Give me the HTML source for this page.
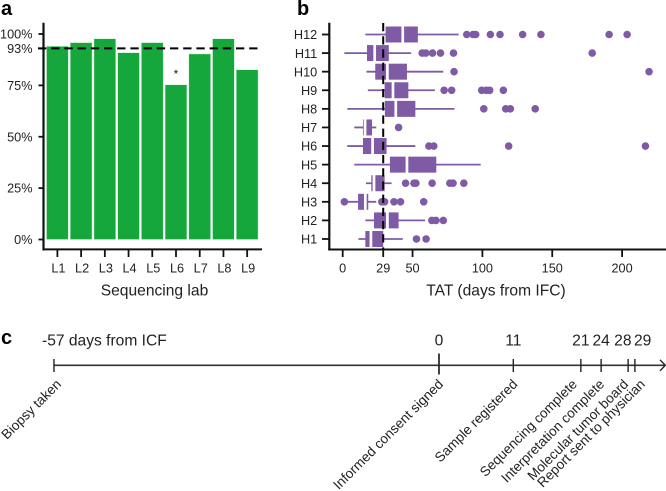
<!DOCTYPE html>
<html>
<head>
<meta charset="utf-8">
<title>Sequencing lab and TAT chart</title>
<style>
html,body{margin:0;padding:0;background:#fff;}
svg{display:block;font-family:"Liberation Sans",Arial,sans-serif;fill:#222;}
</style>
</head>
<body>
<svg id="fig" width="666" height="491" viewBox="0 0 666 491" xmlns="http://www.w3.org/2000/svg"></svg>
<script>
// Panel a data
const labNames = ['L1','L2','L3','L4','L5','L6','L7','L8','L9'];
const labRates = [94, 95.8, 97.7, 90.9, 95.8, 75.3, 90.3, 97.7, 82.6];
const labTicks = [0, 25, 50, 75, 93, 100];
const labThreshold = 93;
const starredLab = 'L6';

// Panel b data
const hospitalNames = ['H12','H11','H10','H9','H8','H7','H6','H5','H4','H3','H2','H1'];
const whiskerLow  = [16.2, 1.2, 17, 18, 3.3, 8.3, 3.3, 8.3, 16.6, 1.2, 16.2, 11.2];
const quartile1   = [30.7, 17.4, 23.3, 30, 30.2, 14.5, 14.5, 33.8, 20.5, 11, 22.4, 16.2];
const medians     = [43, 22.9, 32, 36, 38, 16, 21.4, 46, 22.4, 16.2, 32, 20.2];
const quartile3   = [53.8, 33, 46, 47, 52, 21, 31.4, 67, 30, 18.3, 40, 29];
const whiskerHigh = [83, 49, 72, 66, 80, 24, 52, 98.8, 35, 24, 59, 43];
const outliers = [
  [88.8, 93.3, 95.2, 105.7, 112.6, 128.8, 141.9, 190.7, 203.6],
  [56.9, 59.5, 64.3, 70, 79.3, 178.6],
  [79.7, 219.3],
  [72.6, 78, 99.5, 102.8, 105.2, 115],
  [101, 116.7, 120, 137.8],
  [40],
  [61.7, 65.2, 118.8, 216.7],
  [],
  [45, 51, 52.4, 64, 76.7, 79, 86.7],
  [1.2, 28, 30, 36.7, 41.4, 58],
  [63.8, 66.7, 72],
  [52.8, 59.7]
];
const tatTicks = [0, 29, 50, 100, 150, 200];
const tatThreshold = 29;

// Panel c data
const milestoneDays = [-57, 0, 11, 21, 24, 28, 29];
const milestoneValueLabels = ['-57 days from ICF', '0', '11', '21', '24', '28', '29'];
const milestoneNames = ['Biopsy taken','Informed consent signed','Sample registered','Sequencing complete','Interpretation complete','Molecular tumor board','Report sent to physician'];

const NS = 'http://www.w3.org/2000/svg';
const fig = document.getElementById('fig');
function mk(tag, attrs, parent, text){
  const el = document.createElementNS(NS, tag);
  for (const k in attrs) el.setAttribute(k, attrs[k]);
  if (text !== undefined) el.textContent = text;
  (parent || fig).appendChild(el);
  return el;
}
function group(name){
  const g = mk('g', {});
  
  
  return g;
}
const INK = '#111';
const TEXT = '#222';
const GREEN = '#15a63c';
const PURPLE = '#7f5ba6';

// ---------- Panel labels
[['a',1,15],['b',297,15],['c',1,344]].forEach(p => {
  const t = mk('text', {x:p[1], y:p[2], 'font-size':20, 'font-weight':'bold', fill:'#000'}, fig, p[0]);
  
  
});

// ---------- Panel a
const yA = v => 239.5 - 2.055 * v;
const xA = i => 57.4 + 23.72 * i;
const gA = group('lab-bar-chart');
labNames.forEach((n, i) => {
  const r = mk('rect', {x:xA(i)-10.9, y:yA(labRates[i]), width:21.8, height:yA(0)-yA(labRates[i]), fill:GREEN, stroke:'#cfeed6', 'stroke-width':0.5}, gA);
  
  
  const tk = mk('line', {x1:xA(i), x2:xA(i), y1:249, y2:257, stroke:INK, 'stroke-width':1.8}, gA);
  
  
  const lb = mk('text', {x:xA(i)+1, y:272.3, 'font-size':12.7, 'text-anchor':'middle', fill:TEXT}, gA, n);
  
  
  if (n === starredLab) {
    const st = mk('text', {x:xA(i), y:78, 'font-size':12, 'text-anchor':'middle', fill:TEXT}, gA, '*');
    
    
  }
});
labTicks.forEach(v => {
  const tk = mk('line', {x1:38.5, x2:44, y1:yA(v), y2:yA(v), stroke:INK, 'stroke-width':1.8}, gA);
  
  
  const lb = mk('text', {x:32.5, y:yA(v)+4.6, 'font-size':12.7, 'text-anchor':'end', fill:TEXT}, gA, v + '%');
  
  
});
const axAY = mk('line', {x1:43.5, x2:43.5, y1:22.7, y2:250.5, stroke:INK, 'stroke-width':2.2}, gA);


const axAX = mk('line', {x1:42.5, x2:262, y1:249.4, y2:249.4, stroke:INK, 'stroke-width':2}, gA);


const dashA = mk('line', {x1:38, x2:258, y1:yA(labThreshold), y2:yA(labThreshold), stroke:'#000', 'stroke-width':2, 'stroke-dasharray':'8.3 4.9'}, gA);


const titleA = mk('text', {x:154.5, y:295.5, 'font-size':15.6, 'text-anchor':'middle', fill:TEXT}, gA, 'Sequencing lab');



// ---------- Panel b
const xB = v => 342.7 + 1.397 * v;
const yB = i => 34.5 + 18.59 * i;
const gB = group('tat-boxplot-chart');
hospitalNames.forEach((n, i) => {
  const y = yB(i);
  const row = mk('g', {}, gB);
  
  
  mk('line', {x1:xB(whiskerLow[i]), x2:xB(whiskerHigh[i]), y1:y, y2:y, stroke:PURPLE, 'stroke-width':1.8}, row);
  mk('rect', {x:xB(quartile1[i]), y:y-8, width:xB(quartile3[i])-xB(quartile1[i]), height:16, fill:PURPLE}, row);
  mk('line', {x1:xB(medians[i]), x2:xB(medians[i]), y1:y-8.5, y2:y+8.5, stroke:'#fff', 'stroke-width':2.7}, row);
  outliers[i].forEach(v => {
    mk('circle', {cx:xB(v), cy:y, r:3.8, fill:PURPLE}, row);
  });
  const tk = mk('line', {x1:322, x2:330, y1:y, y2:y, stroke:INK, 'stroke-width':1.8}, gB);
  
  
  const lb = mk('text', {x:317.2, y:y+4.7, 'font-size':12.7, 'text-anchor':'end', fill:TEXT}, gB, n);
  
  
});
tatTicks.forEach(v => {
  const tk = mk('line', {x1:xB(v), x2:xB(v), y1:249, y2:257, stroke:INK, 'stroke-width':1.8}, gB);
  
  
  const lb = mk('text', {x:xB(v), y:272.3, 'font-size':12.7, 'text-anchor':'middle', fill:TEXT}, gB, String(v));
  
  
});
const axBY = mk('line', {x1:329.3, x2:329.3, y1:22.7, y2:250.5, stroke:INK, 'stroke-width':2.2}, gB);


const axBX = mk('line', {x1:328.3, x2:666, y1:249.5, y2:249.5, stroke:INK, 'stroke-width':2}, gB);


const dashB = mk('line', {x1:xB(tatThreshold), x2:xB(tatThreshold), y1:23, y2:249, stroke:'#000', 'stroke-width':2, 'stroke-dasharray':'8.3 4.9'}, gB);


const titleB = mk('text', {x:496, y:295.5, 'font-size':15.6, 'text-anchor':'middle', fill:TEXT}, gB, 'TAT (days from IFC)');



// ---------- Panel c
const xC = d => 439 + 6.755 * d;
const yC = 365.3;
const gC = group('timeline');
const axis = mk('line', {x1:xC(milestoneDays[0]), x2:664, y1:yC, y2:yC, stroke:'#333', 'stroke-width':1.7}, gC);


const arrow = mk('polyline', {points:[[660,yC-5.5],[665.3,yC],[660,yC+5.5]].join(' '), fill:'none', stroke:'#222', 'stroke-width':1.4}, gC);


milestoneDays.forEach((d, i) => {
  const x = xC(d);
  const tall = d === 0;
  const tk = mk('line', {x1:x, x2:x, y1:tall ? 353.5 : 359, y2:tall ? 374.5 : 372, stroke:'#222', 'stroke-width':tall ? 1.7 : 1.4}, gC);
  
  
  const isFirst = i === 0;
  const spread = d === 28 ? -5.3 : d === 29 ? 7.8 : 0;
  const vx = isFirst ? 42 : x + spread;
  const vl = mk('text', {x:vx, y:345.5, 'font-size':15.6, 'text-anchor':isFirst ? 'start' : 'middle', fill:TEXT}, gC, milestoneValueLabels[i]);
  
  
  const nudge = d === 21 ? -3 : d === 29 ? 11 : d === 28 ? 1 : d === 24 ? 4 : d === 11 ? 5 : d === 0 ? 5 : 8;
  const nl = mk('text', {transform:'translate(' + (x + nudge) + ',385) rotate(-45)', 'font-size':13.6, 'text-anchor':'end', fill:TEXT}, gC, milestoneNames[i]);
  
  
});
</script>
</body>
</html>
